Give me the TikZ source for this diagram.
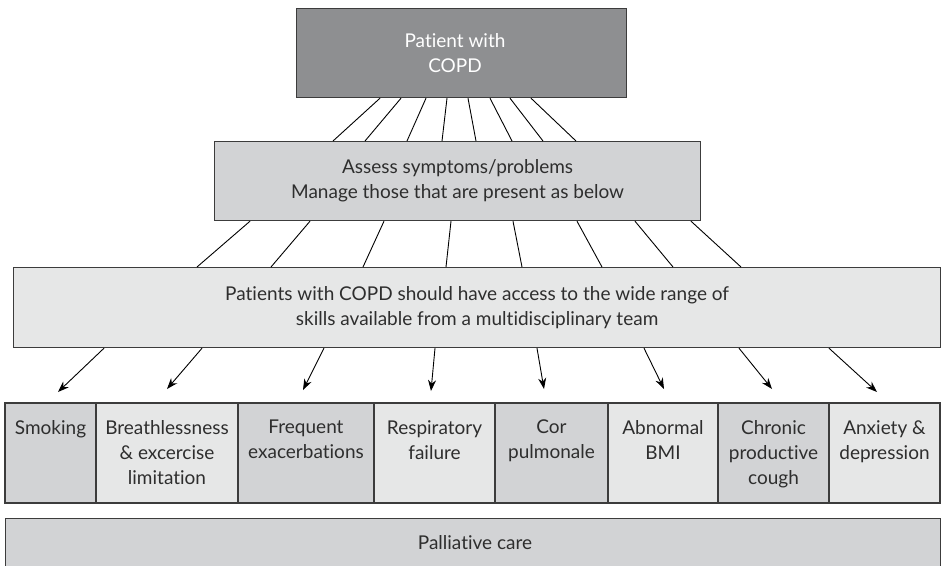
\documentclass[tikz,border=0pt]{standalone}
\usepackage{fontspec}
\setmainfont{Lato}[Ligatures={NoCommon}]
\usetikzlibrary{arrows.meta,calc}
\definecolor{darkbox}{HTML}{8E8F91}
\definecolor{midbox}{HTML}{D2D3D5}
\definecolor{lightbox}{HTML}{E6E7E7}
\definecolor{edge}{HTML}{3C3C3C}
\definecolor{txt}{HTML}{2E2E2E}
\begin{document}
\begin{tikzpicture}[x=1pt,y=-1pt,
  boxbase/.style={draw=edge,line width=1.2pt,inner sep=0pt,font=\fontsize{19}{25}\selectfont,text=txt,align=center},
  celltext/.style={font=\fontsize{19}{25}\selectfont,text=txt,align=center,anchor=north,inner sep=0pt},
  link/.style={line width=0.9pt,black},
  arr/.style={line width=0.9pt,black,-{Stealth[length=11pt,width=8pt]}}]
\useasboundingbox (0,0) rectangle (942,565);
\clip (0,0) rectangle (942,565);
% boxes
\node[boxbase,fill=darkbox,anchor=north west,minimum width=330pt,minimum height=89pt] (top) at (296,8) {};
\node[font=\fontsize{19}{25}\selectfont,text=white,align=center,inner sep=0pt] (toptxt) at (455,53) {Patient with\\COPD};
\node[boxbase,fill=midbox,anchor=north west,minimum width=486pt,minimum height=79pt] (assess) at (214,141) {Assess symptoms/problems\\Manage those that are present as below};
\node[boxbase,fill=lightbox,anchor=north west,minimum width=927pt,minimum height=80pt] (team) at (13,267) {Patients with COPD should have access to the wide range of\\skills available from a multidisciplinary team};
% bottom cells
\foreach \nm/\xa/\xb/\col/\tx in {
  smoking/5/96/midbox/{Smoking},
  breath/96/238/lightbox/{Breathlessness\\\& excercise\\limitation},
  freq/238/374/midbox/{Frequent\\exacerbations},
  resp/374/495/lightbox/{Respiratory\\failure},
  cor/495/608/midbox/{Cor\\pulmonale},
  bmi/608/718/lightbox/{Abnormal\\BMI},
  cough/718/829/midbox/{Chronic\\productive\\cough},
  anx/829/940/lightbox/{Anxiety \&\\depression}}{
  \draw[draw=edge,line width=1.2pt,fill=\col] (\xa,403) rectangle (\xb,503);
  \node[celltext] (\nm) at ({(\xa+\xb)/2},420) {\tx};
}
\node[boxbase,fill=midbox,anchor=north west,minimum width=935pt,minimum height=70pt] (pall) at (5,518) {};
\node[font=\fontsize{19}{25}\selectfont,text=txt,inner sep=0pt] (palltxt) at (475,543) {Palliative care};
% links top -> assess
\foreach \a/\b in {84/119,105/151,130/193,151/228,172/262,194/298,214/329,235/362}
  \draw[link] ([xshift=\a pt]top.south west) -- ([xshift=\b pt]assess.north west);
% links assess -> team
\foreach \a/\b in {36/184,96/258,170/350,237/433,299/509,363/589,421/660,477/728}
  \draw[link] ([xshift=\a pt]assess.south west) -- ([xshift=\b pt]team.north west);
% arrow tips
\coordinate (t1) at (58,392);
\coordinate (t2) at (167,389);
\coordinate (t3) at (303,390);
\coordinate (t4) at (431,391);
\coordinate (t5) at (544,389);
\coordinate (t6) at (664,389);
\coordinate (t7) at (772,389);
\coordinate (t8) at (877,392);
\foreach \a/\t in {91/t1,189/t2,311/t3,422/t4,524/t5,631/t6,726/t7,816/t8}
  \draw[arr] ([xshift=\a pt]team.south west) -- (\t);
\end{tikzpicture}
\end{document}
